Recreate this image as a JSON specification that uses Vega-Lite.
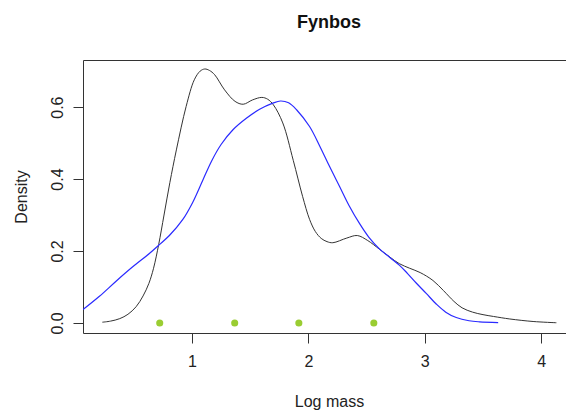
{
  "$schema": "https://vega.github.io/schema/vega-lite/v6.json",
  "autosize": {"type": "none"},
  "padding": {"left": 83, "top": 60, "right": -9, "bottom": 82},
  "width": 492,
  "height": 273,
  "background": "white",
  "title": {"text": "Fynbos", "font": "Liberation Sans", "fontSize": 18, "fontWeight": "bold", "color": "#111", "offset": 28, "anchor": "middle"},
  "config": {
    "view": {"stroke": "#333", "strokeWidth": 1},
    "axis": {"labelFont": "Liberation Sans", "titleFont": "Liberation Sans", "labelFontSize": 16, "titleFontSize": 16, "titleFontWeight": "normal", "labelColor": "#222", "titleColor": "#222", "tickColor": "#333", "tickSize": 10, "grid": false, "domain": false}
  },
  "datasets": {
    "black": [
      {"x": 0.23, "y": 0.002}, {"x": 0.30, "y": 0.005}, {"x": 0.38, "y": 0.012}, {"x": 0.45, "y": 0.024},
      {"x": 0.52, "y": 0.045}, {"x": 0.58, "y": 0.075}, {"x": 0.63, "y": 0.110}, {"x": 0.67, "y": 0.152},
      {"x": 0.714, "y": 0.218}, {"x": 0.76, "y": 0.300}, {"x": 0.81, "y": 0.390}, {"x": 0.866, "y": 0.481},
      {"x": 0.95, "y": 0.602}, {"x": 1.02, "y": 0.676}, {"x": 1.07, "y": 0.700}, {"x": 1.11, "y": 0.706},
      {"x": 1.15, "y": 0.702}, {"x": 1.195, "y": 0.690}, {"x": 1.28, "y": 0.648}, {"x": 1.37, "y": 0.616},
      {"x": 1.44, "y": 0.608}, {"x": 1.52, "y": 0.620}, {"x": 1.60, "y": 0.627}, {"x": 1.65, "y": 0.622},
      {"x": 1.70, "y": 0.606}, {"x": 1.78, "y": 0.556}, {"x": 1.87, "y": 0.452}, {"x": 1.95, "y": 0.352},
      {"x": 2.01, "y": 0.288}, {"x": 2.06, "y": 0.254}, {"x": 2.11, "y": 0.235}, {"x": 2.16, "y": 0.226},
      {"x": 2.21, "y": 0.223}, {"x": 2.33, "y": 0.236}, {"x": 2.42, "y": 0.243}, {"x": 2.51, "y": 0.229},
      {"x": 2.61, "y": 0.205}, {"x": 2.70, "y": 0.183}, {"x": 2.78, "y": 0.165}, {"x": 2.87, "y": 0.152},
      {"x": 2.96, "y": 0.140}, {"x": 3.07, "y": 0.118}, {"x": 3.16, "y": 0.090}, {"x": 3.25, "y": 0.060},
      {"x": 3.32, "y": 0.042}, {"x": 3.41, "y": 0.030}, {"x": 3.50, "y": 0.023}, {"x": 3.59, "y": 0.018},
      {"x": 3.73, "y": 0.011}, {"x": 3.93, "y": 0.004}, {"x": 4.13, "y": 0.0005}
    ],
    "blue": [
      {"x": 0.064, "y": 0.037}, {"x": 0.205, "y": 0.074}, {"x": 0.348, "y": 0.116}, {"x": 0.491, "y": 0.156},
      {"x": 0.634, "y": 0.193}, {"x": 0.714, "y": 0.216}, {"x": 0.806, "y": 0.243}, {"x": 0.92, "y": 0.287},
      {"x": 1.006, "y": 0.335}, {"x": 1.092, "y": 0.396}, {"x": 1.17, "y": 0.451}, {"x": 1.25, "y": 0.496},
      {"x": 1.352, "y": 0.537}, {"x": 1.467, "y": 0.569}, {"x": 1.581, "y": 0.594}, {"x": 1.695, "y": 0.611},
      {"x": 1.76, "y": 0.617}, {"x": 1.83, "y": 0.612}, {"x": 1.90, "y": 0.592}, {"x": 2.01, "y": 0.546},
      {"x": 2.10, "y": 0.490}, {"x": 2.18, "y": 0.436}, {"x": 2.27, "y": 0.378}, {"x": 2.35, "y": 0.326},
      {"x": 2.44, "y": 0.276}, {"x": 2.52, "y": 0.238}, {"x": 2.61, "y": 0.206}, {"x": 2.70, "y": 0.182},
      {"x": 2.783, "y": 0.160}, {"x": 2.85, "y": 0.138}, {"x": 2.926, "y": 0.111}, {"x": 3.012, "y": 0.082},
      {"x": 3.10, "y": 0.052}, {"x": 3.18, "y": 0.030}, {"x": 3.27, "y": 0.015}, {"x": 3.38, "y": 0.006},
      {"x": 3.47, "y": 0.003}, {"x": 3.63, "y": 0.001}
    ],
    "pts": [
      {"x": 0.723, "y": 0}, {"x": 1.367, "y": 0}, {"x": 1.918, "y": 0}, {"x": 2.562, "y": 0}
    ]
  },
  "layer": [
    {
      "data": {"name": "black"},
      "mark": {"type": "line", "color": "#333333", "strokeWidth": 1, "interpolate": "catmull-rom", "clip": true},
      "encoding": {
        "x": {"field": "x", "type": "quantitative", "scale": {"domain": [0.064, 4.29], "nice": false, "zero": false},
              "axis": {"values": [1, 2, 3, 4], "format": "d", "title": "Log mass", "labelPadding": 10, "titlePadding": 24}},
        "y": {"field": "y", "type": "quantitative", "scale": {"domain": [-0.028, 0.731], "nice": false, "zero": false},
              "axis": {"values": [0, 0.1, 0.2, 0.3, 0.4, 0.5, 0.6, 0.7], "labelExpr": "round(datum.value*10)%2==0 ? format(datum.value,'.1f') : ''",
                       "labelAngle": -90, "labelAlign": "center", "labelBaseline": "bottom", "labelPadding": 8, "title": "Density", "titlePadding": 20}}
      }
    },
    {
      "data": {"name": "blue"},
      "mark": {"type": "line", "color": "#2a2aff", "strokeWidth": 1.2, "interpolate": "catmull-rom", "clip": true},
      "encoding": {
        "x": {"field": "x", "type": "quantitative"},
        "y": {"field": "y", "type": "quantitative"}
      }
    },
    {
      "data": {"name": "pts"},
      "mark": {"type": "point", "filled": true, "shape": "circle", "color": "#9acd32", "opacity": 1, "size": 50},
      "encoding": {
        "x": {"field": "x", "type": "quantitative"},
        "y": {"field": "y", "type": "quantitative"}
      }
    }
  ]
}
